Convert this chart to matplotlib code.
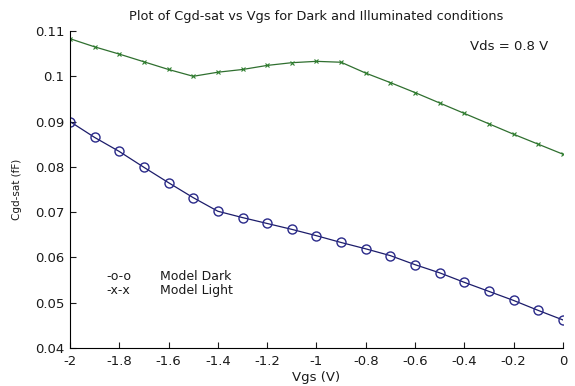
import matplotlib
matplotlib.use("Agg")
import matplotlib.pyplot as plt
import numpy as np

vgs = [-2.0, -1.9, -1.8, -1.7, -1.6, -1.5, -1.4, -1.3, -1.2, -1.1, -1.0,
       -0.9, -0.8, -0.7, -0.6, -0.5, -0.4, -0.3, -0.2, -0.1, 0.0]
cgd_dark = [0.0900, 0.0865, 0.0834, 0.0799, 0.0765, 0.0732, 0.0702, 0.0688,
            0.0675, 0.0662, 0.0648, 0.0633, 0.0619, 0.0604, 0.0584, 0.0566,
            0.0545, 0.0525, 0.0505, 0.0483, 0.0462]
cgd_light = [0.1083, 0.1065, 0.1049, 0.1032, 0.1015, 0.1000, 0.1009, 0.1015,
             0.1024, 0.1030, 0.1033, 0.1031, 0.1007, 0.0986, 0.0964, 0.0941,
             0.0918, 0.0895, 0.0872, 0.0850, 0.0828]
xticks = [-2, -1.8, -1.6, -1.4, -1.2, -1, -0.8, -0.6, -0.4, -0.2, 0]
xticklabels = ['-2', '-1.8', '-1.6', '-1.4', '-1.2', '-1', '-0.8', '-0.6', '-0.4', '-0.2', '0']
yticks = [0.04, 0.05, 0.06, 0.07, 0.08, 0.09, 0.1, 0.11]
yticklabels = ['0.04', '0.05', '0.06', '0.07', '0.08', '0.09', '0.1', '0.11']

plt.rcParams['font.family'] = ['DejaVu Sans']

fig = plt.figure(figsize=(5.75, 3.86), dpi=100)
ax = fig.add_axes([0.1217, 0.0984, 0.8573, 0.8213])

ax.plot(vgs, cgd_dark, color='#1c1c6a', lw=0.9, marker='o', ms=6.5,
        mfc='none', mec='#2a2a8a', mew=1.0)
ax.plot(vgs, cgd_light, color='#2f6f2f', lw=0.9, marker='x', ms=3.5,
        mec='#2f7f2f', mew=0.8)

ax.set_xlim(-2, 0)
ax.set_ylim(0.04, 0.11)
ax.set_xticks(xticks)
ax.set_xticklabels(xticklabels)
ax.set_yticks(yticks)
ax.set_yticklabels(yticklabels)
ax.tick_params(direction='in', length=4, width=0.8, labelsize=9.5, colors='#1a1a1a')
ax.tick_params(axis='x', pad=5)
ax.tick_params(axis='y', pad=4)
ax.spines['top'].set_visible(False)
ax.spines['right'].set_visible(False)
ax.spines['left'].set_linewidth(0.8)
ax.spines['bottom'].set_linewidth(0.8)

ax.set_title('Plot of Cgd-sat vs Vgs for Dark and Illuminated conditions', fontsize=9.3, pad=8, color='#1a1a1a')
ax.set_xlabel('Vgs (V)', fontsize=9.5, labelpad=2, color='#1a1a1a')
ax.set_ylabel('Cgd-sat (fF)', fontsize=7.5, labelpad=9, color='#1a1a1a')

ax.text(-1.854, 0.0559, '-o-o', fontsize=9, va='center', color='#1a1a1a')
ax.text(-1.635, 0.0559, 'Model Dark', fontsize=9, va='center', color='#1a1a1a')
ax.text(-1.854, 0.0526, '-x-x', fontsize=9, va='center', color='#1a1a1a')
ax.text(-1.635, 0.0526, 'Model Light', fontsize=9, va='center', color='#1a1a1a')
ax.text(-0.377, 0.1065, 'Vds = 0.8 V', fontsize=9.5, va='center', color='#1a1a1a')

fig.savefig('out.png', dpi=100)
